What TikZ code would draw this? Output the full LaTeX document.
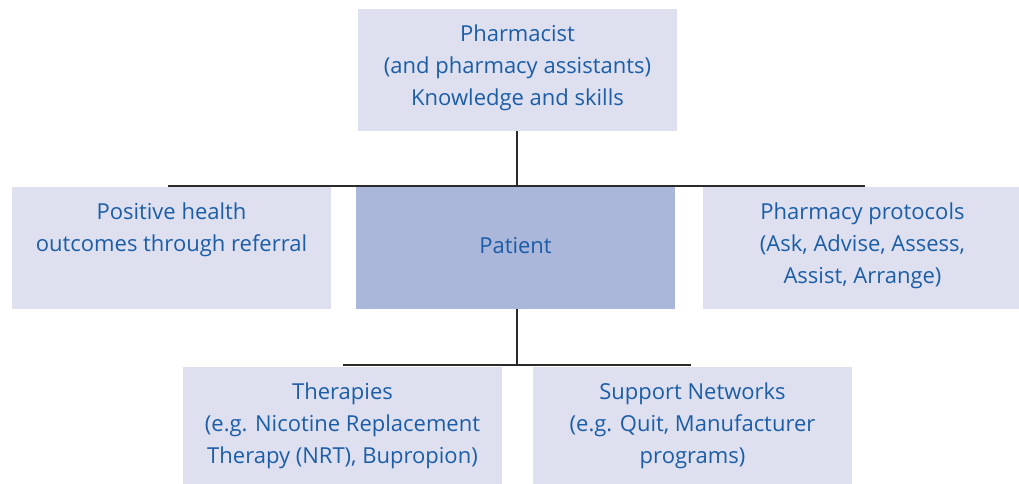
\documentclass[tikz,border=0pt]{standalone}
\usepackage{fontspec}
\setmainfont{Open Sans}
\usetikzlibrary{positioning}

\definecolor{boxlight}{HTML}{DEE0F0}
\definecolor{boxdark}{HTML}{AAB6DA}
\definecolor{txtblue}{HTML}{1B5DA6}
\definecolor{linegray}{HTML}{2A2A2A}

\tikzset{
  box/.style={fill=boxlight, draw=none, minimum width=239.25pt, minimum height=91.5pt, inner sep=0pt},
  boxtxt/.style={align=center, inner sep=0pt, text=txtblue, font=\fontsize{16.5}{24}\selectfont, execute at begin node=\strut},
  bus/.style={draw=linegray, line width=2pt}
}

\begin{document}
\begin{tikzpicture}[x=0.75pt, y=-0.75pt]
		\useasboundingbox (0,0) rectangle (1019,483);

		% Boxes
		\node[box] (pharm) at (517.5,70) {};
		\node[box] (health) at (171.5,248) {};
		\node[box, fill=boxdark] (patient) at (515.5,248) {};
		\node[box] (protocol) at (862.5,248) {};
		\node[box] (therapy) at (342.5,428) {};
		\node[box] (support) at (692.5,428) {};

		% Texts
		\node[boxtxt, below=11.5pt of pharm.north] (pharm-txt) {Pharmacist\\(and pharmacy assistants)\\Knowledge and skills};
		\node[boxtxt, below=11.5pt of health.north] (health-txt) {Positive health\\outcomes through referral};
		\node[boxtxt, below=33pt of patient.north] (patient-txt) {Patient};
		\node[boxtxt, below=11.5pt of protocol.north] (protocol-txt) {Pharmacy protocols\\(Ask, Advise, Assess,\\Assist, Arrange)};
		\node[boxtxt, below=11.5pt of therapy.north] (therapy-txt) {Therapies\\(e.g. Nicotine Replacement\\Therapy (NRT), Bupropion)};
		\node[boxtxt, below=11.5pt of support.north] (support-txt) {Support Networks\\(e.g. Quit, Manufacturer\\programs)};

		% Bus lines
		\coordinate (upL) at (168,186);
		\coordinate (upR) at (865,186);
		\coordinate (upM) at (517,186);
		\coordinate (lowL) at (343,365);
		\coordinate (lowR) at (691,365);
		\coordinate (lowM) at (517,365);

		\draw[bus] (upL) -- (upR);
		\draw[bus] (pharm.south -| upM) -- (upM);
		\draw[bus] (lowL) -- (lowR);
		\draw[bus] (patient.south -| lowM) -- (lowM);

	\end{tikzpicture}
\end{document}
